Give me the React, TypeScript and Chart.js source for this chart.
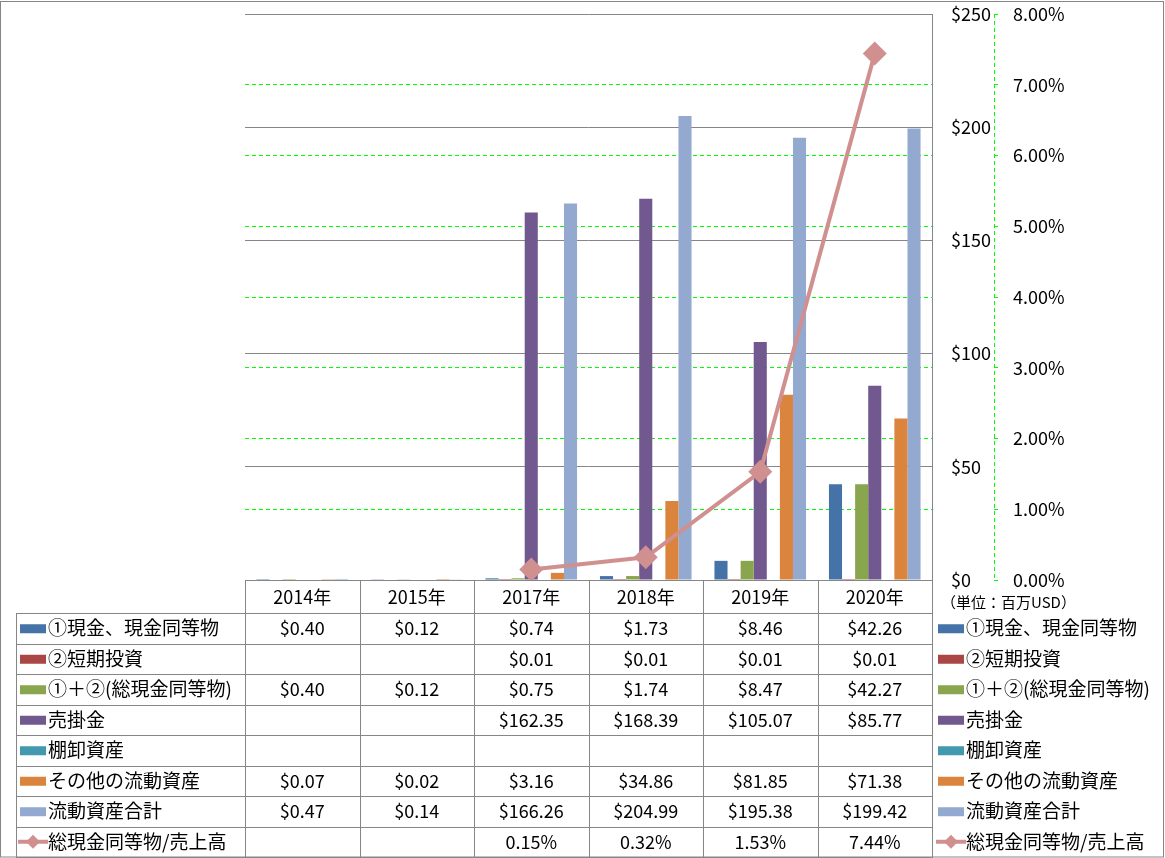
import { useEffect, useRef } from 'react';
import { Chart, registerables } from 'chart.js';

Chart.register(...registerables);

const categories = ['2014年', '2015年', '2017年', '2018年', '2019年', '2020年'];

const cashEquivalents = [0.40, 0.12, 0.74, 1.73, 8.46, 42.26];
const shortTermInvestments = [null, null, 0.01, 0.01, 0.01, 0.01];
const totalCash = [0.40, 0.12, 0.75, 1.74, 8.47, 42.27];
const receivables = [null, null, 162.35, 168.39, 105.07, 85.77];
const inventories = [null, null, null, null, null, null];
const otherCurrentAssets = [0.07, 0.02, 3.16, 34.86, 81.85, 71.38];
const totalCurrentAssets = [0.47, 0.14, 166.26, 204.99, 195.38, 199.42];
const cashToSales = [null, null, 0.15, 0.32, 1.53, 7.44];

const barNames = [
  '①現金、現金同等物',
  '②短期投資',
  '①＋②(総現金同等物)',
  '売掛金',
  '棚卸資産',
  'その他の流動資産',
  '流動資産合計',
];
const lineName = '総現金同等物/売上高';
const barSeries = [
  cashEquivalents,
  shortTermInvestments,
  totalCash,
  receivables,
  inventories,
  otherCurrentAssets,
  totalCurrentAssets,
];
const barColors = ['#4572A7', '#AA4643', '#89A54E', '#71588F', '#4198AF', '#DB843D', '#93A9CF'];
const lineColor = '#D09090';
const unitLabel = '（単位：百万USD）';

const FONT = "'Noto Sans CJK JP', 'Noto Sans', sans-serif";
const GRID_GRAY = '#868686';
const GREEN = '#00FF00';

const AREA = { left: 245, top: 14, right: 932, bottom: 580 };

const fmtMoney = (v: number | null) => (v === null ? '' : '$' + v.toFixed(2));
const fmtPct = (v: number | null) => (v === null ? '' : v.toFixed(2) + '%');

const tablePlugin = {
  id: 'dataTable',
  afterDraw(chart: any) {
    const ctx: CanvasRenderingContext2D = chart.ctx;
    const xs = chart.scales.x;
    const y1 = chart.scales.y1;
    const area = chart.chartArea;
    const W = chart.width;
    const H = chart.height;
    const n = categories.length;
    const colW = (xs.right - xs.left) / n;
    const tableTop = area.bottom;
    const headerH = 33;
    const rowsTop = tableTop + headerH;
    const tableBottom = H - 1;
    const nRows = barNames.length + 1;
    const rowH = (tableBottom - rowsTop) / nRows;
    const legendLeft = 16;
    const tableRight = xs.right + 1;

    ctx.save();

    // dashed green axis line for percent axis
    ctx.strokeStyle = GREEN;
    ctx.lineWidth = 1;
    ctx.setLineDash([4, 3]);
    ctx.beginPath();
    ctx.moveTo(Math.round(y1.left) + 0.5, y1.top);
    ctx.lineTo(Math.round(y1.left) + 0.5, y1.bottom);
    ctx.stroke();
    ctx.setLineDash([]);

    // grid lines of the table
    ctx.strokeStyle = GRID_GRAY;
    ctx.lineWidth = 1;
    ctx.beginPath();
    const hy = (v: number) => Math.round(v) + 0.5;
    ctx.moveTo(xs.left, hy(tableTop));
    ctx.lineTo(tableRight, hy(tableTop));
    for (let r = 0; r <= nRows; r++) {
      const yy = hy(rowsTop + r * rowH);
      ctx.moveTo(legendLeft, yy);
      ctx.lineTo(tableRight, yy);
    }
    ctx.moveTo(legendLeft + 0.5, hy(rowsTop));
    ctx.lineTo(legendLeft + 0.5, tableBottom);
    for (let c = 0; c <= n; c++) {
      const xx = Math.round(xs.left + c * colW) + 0.5;
      ctx.moveTo(xx, hy(tableTop));
      ctx.lineTo(xx, tableBottom);
    }
    ctx.stroke();

    // outer border
    ctx.strokeRect(0.5, 1.5, W - 2, H - 2.5);

    // header
    ctx.fillStyle = '#000';
    ctx.textBaseline = 'middle';
    ctx.textAlign = 'center';
    ctx.font = `18px ${FONT}`;
    for (let c = 0; c < n; c++) {
      ctx.fillText(categories[c], xs.getPixelForValue(c), tableTop + headerH / 2 + 1);
    }

    const drawKey = (k: number, kx: number, cy: number) => {
      if (k < barNames.length) {
        ctx.fillStyle = barColors[k];
        ctx.fillRect(kx, cy - 4, 26, 9);
      } else {
        ctx.strokeStyle = lineColor;
        ctx.lineWidth = 4;
        ctx.beginPath();
        ctx.moveTo(kx - 2, cy);
        ctx.lineTo(kx + 28, cy);
        ctx.stroke();
        ctx.fillStyle = lineColor;
        ctx.beginPath();
        const cx = kx + 13;
        ctx.moveTo(cx - 7, cy);
        ctx.lineTo(cx, cy - 7);
        ctx.lineTo(cx + 7, cy);
        ctx.lineTo(cx, cy + 7);
        ctx.closePath();
        ctx.fill();
      }
    };

    for (let r = 0; r < nRows; r++) {
      const cy = rowsTop + r * rowH + rowH / 2;
      const name = r < barNames.length ? barNames[r] : lineName;
      const vals = r < barNames.length ? barSeries[r] : cashToSales;
      const fmt = r < barNames.length ? fmtMoney : fmtPct;
      drawKey(r, 20, cy);
      ctx.fillStyle = '#000';
      ctx.textAlign = 'left';
      ctx.font = `19px ${FONT}`;
      ctx.fillText(name, 48, cy);
      drawKey(r, tableRight + 5, cy);
      ctx.fillStyle = '#000';
      ctx.textAlign = 'left';
      ctx.font = `19px ${FONT}`;
      ctx.fillText(name, tableRight + 33, cy);
      ctx.textAlign = 'center';
      ctx.font = `18px ${FONT}`;
      for (let c = 0; c < n; c++) {
        ctx.fillText(fmt(vals[c] as number | null), xs.getPixelForValue(c), cy);
      }
    }

    ctx.textAlign = 'left';
    ctx.font = `15px ${FONT}`;
    ctx.fillText(unitLabel, tableRight + 8, tableTop + 22);

    ctx.restore();
  },
};

export default function App() {
  const ref = useRef<HTMLCanvasElement | null>(null);

  useEffect(() => {
    if (!ref.current) return;
    Chart.defaults.font.family = FONT;
    const datasets: any[] = barSeries.map((data, i) => ({
      type: 'bar',
      label: barNames[i],
      data,
      backgroundColor: barColors[i],
      borderWidth: 0,
      yAxisID: 'y',
      categoryPercentage: 0.8,
      barPercentage: 1.0,
      order: 1,
    }));
    datasets.push({
      type: 'line',
      label: lineName,
      data: cashToSales,
      borderColor: lineColor,
      backgroundColor: lineColor,
      borderWidth: 4,
      pointStyle: 'rectRot',
      pointRadius: 12,
      pointBorderWidth: 0,
      pointBackgroundColor: lineColor,
      yAxisID: 'y1',
      order: 0,
    });

    const padding = { left: 245, right: 71, top: 14, bottom: 278 };

    const chart = new Chart(ref.current, {
      type: 'bar',
      data: { labels: categories, datasets },
      options: {
        responsive: false,
        animation: false,
        layout: { padding },
        plugins: { legend: { display: false }, tooltip: { enabled: false } },
        scales: {
          x: { display: false },
          y: {
            position: 'right',
            weight: 0,
            min: 0,
            max: 250,
            ticks: {
              stepSize: 50,
              padding: 19,
              color: '#000',
              font: { size: 18, family: FONT },
              callback: (v: any) => '$' + v,
            },
            grid: { color: GRID_GRAY, lineWidth: 1, drawTicks: false },
            border: { display: true, color: GRID_GRAY, width: 1 },
            afterFit: (s: any) => {
              s.width = 62;
              s.paddingTop = 0;
              s.paddingBottom = 0;
            },
          },
          y1: {
            position: 'right',
            weight: 1,
            min: 0,
            max: 8,
            ticks: {
              stepSize: 1,
              padding: 15,
              color: '#000',
              font: { size: 18, family: FONT },
              callback: (v: any) => Number(v).toFixed(2) + '%',
            },
            grid: {
              color: (c: any) =>
                c.tick && (c.tick.value === 0 || c.tick.value === 8) ? 'rgba(0,0,0,0)' : GREEN,
              tickColor: GREEN,
              tickLength: 4,
              lineWidth: 1,
              drawTicks: true,
            },
            border: { display: false, dash: [4, 3] },
            afterFit: (s: any) => {
              s.width = 100;
              s.paddingTop = 0;
              s.paddingBottom = 0;
            },
          },
        },
      } as any,
      plugins: [tablePlugin],
    });

    // fine-tune padding so the plot area lands exactly where the reference has it
    const a = chart.chartArea;
    const opts: any = chart.options.layout;
    opts.padding = {
      left: Math.max(0, padding.left + (AREA.left - a.left)),
      right: Math.max(0, padding.right + (a.right - AREA.right)),
      top: Math.max(0, padding.top + (AREA.top - a.top)),
      bottom: Math.max(0, padding.bottom + (a.bottom - AREA.bottom)),
    };
    chart.update();

    return () => chart.destroy();
  }, []);

  return (
    <div style={{ position: 'fixed', left: 0, top: 0, width: 1165, height: 858, background: '#fff' }}>
      <canvas ref={ref} width={1165} height={858} style={{ display: 'block' }} />
    </div>
  );
}
